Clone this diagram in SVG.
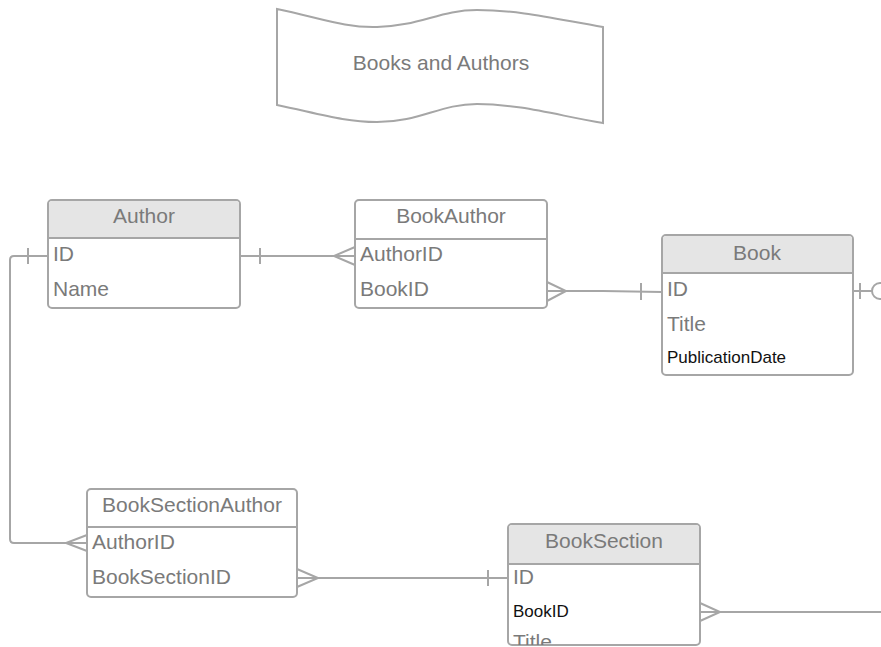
<svg xmlns="http://www.w3.org/2000/svg" width="881" height="647" viewBox="0 0 881 647">
<style>
.box{fill:#ffffff;stroke:#a6a6a6;stroke-width:2}
.hdr{fill:#e5e5e5;stroke:none}
.sep{stroke:#a6a6a6;stroke-width:2;fill:none}
.ln{stroke:#a6a6a6;stroke-width:2;fill:none}
.t{font-family:"Liberation Sans",Arial,sans-serif;font-size:21px;fill:#7a7a7a}
.h{text-anchor:middle}
.k{font-family:"Liberation Sans",Arial,sans-serif;font-size:17px;fill:#111111}
</style>
<defs>
<clipPath id="bsClip"><rect x="508" y="524" width="192" height="121" rx="4"/></clipPath>
</defs>
<rect width="881" height="647" fill="#ffffff"/>

<g id="title">
<path class="box" d="M277,9 C320,18 345,28 377,27 C420,26 440,10 477,10 C520,10 560,20 603,27 L603,123 C560,116 520,104 477,104 C440,104 420,122 377,122 C345,122 320,114 277,105 Z"/>
<text class="t h" x="441" y="70">Books and Authors</text>
</g>

<g id="connectors">
<!-- Author.ID to BookSectionAuthor.AuthorID -->
<path class="ln" d="M48,256 L14,256 Q10,256 10,260 L10,539 Q10,543 14,543 L87,543"/>
<line class="ln" x1="28" y1="248" x2="28" y2="264"/>
<polyline class="ln" points="87,535 66,543 87,551"/>
<!-- Author.ID to BookAuthor.AuthorID -->
<line class="ln" x1="240" y1="256" x2="355" y2="256"/>
<line class="ln" x1="260" y1="248" x2="260" y2="264"/>
<polyline class="ln" points="355,247 334,256 355,265"/>
<!-- BookAuthor.BookID to Book.ID -->
<path class="ln" d="M547,291 L603,291 L662,292"/>
<polyline class="ln" points="547,282 566,291 547,301"/>
<line class="ln" x1="641" y1="283" x2="641" y2="300"/>
<!-- Book.ID to right -->
<line class="ln" x1="853" y1="291" x2="872" y2="291"/>
<line class="ln" x1="860" y1="283" x2="860" y2="299"/>
<circle class="ln" cx="880" cy="291" r="8"/>
<!-- BookSectionAuthor.BookSectionID to BookSection.ID -->
<line class="ln" x1="297" y1="578" x2="508" y2="578"/>
<polyline class="ln" points="297,569 318,578 297,587"/>
<line class="ln" x1="488" y1="570" x2="488" y2="586"/>
<!-- BookSection.BookID to right -->
<line class="ln" x1="700" y1="612" x2="881" y2="612"/>
<polyline class="ln" points="700,603 720,612 700,621"/>
</g>

<g id="Author">
<rect class="box" x="48" y="200" width="192" height="108" rx="4"/>
<path class="hdr" d="M52,201 L236,201 Q239,201 239,204 L239,238 L49,238 L49,204 Q49,201 52,201 Z"/>
<line class="sep" x1="48" y1="238" x2="240" y2="238"/>
<text class="t h" x="144" y="223">Author</text>
<text class="t" x="53" y="261">ID</text>
<text class="t" x="53" y="296">Name</text>
</g>

<g id="BookAuthor">
<rect class="box" x="355" y="200" width="192" height="108" rx="4"/>
<line class="sep" x1="355" y1="239" x2="547" y2="239"/>
<text class="t h" x="451" y="223">BookAuthor</text>
<text class="t" x="360" y="261">AuthorID</text>
<text class="t" x="360" y="296">BookID</text>
</g>

<g id="Book">
<rect class="box" x="662" y="235" width="191" height="140" rx="4"/>
<path class="hdr" d="M666,236 L849,236 Q852,236 852,239 L852,273 L663,273 L663,239 Q663,236 666,236 Z"/>
<line class="sep" x1="662" y1="273" x2="853" y2="273"/>
<text class="t h" x="757" y="260">Book</text>
<text class="t" x="667" y="296">ID</text>
<text class="t" x="667" y="331">Title</text>
<text class="k" x="667" y="363">PublicationDate</text>
</g>

<g id="BookSectionAuthor">
<rect class="box" x="87" y="489" width="210" height="108" rx="4"/>
<line class="sep" x1="87" y1="527" x2="297" y2="527"/>
<text class="t h" x="192" y="512">BookSectionAuthor</text>
<text class="t" x="92" y="549">AuthorID</text>
<text class="t" x="92" y="584">BookSectionID</text>
</g>

<g id="BookSection">
<rect class="box" x="508" y="524" width="192" height="121" rx="4"/>
<path class="hdr" d="M512,525 L696,525 Q699,525 699,528 L699,564 L509,564 L509,528 Q509,525 512,525 Z"/>
<line class="sep" x1="508" y1="564" x2="700" y2="564"/>
<text class="t h" x="604" y="548">BookSection</text>
<text class="t" x="513" y="584">ID</text>
<text class="k" x="513" y="617">BookID</text>
<text class="t" x="513" y="649" clip-path="url(#bsClip)">Title</text>
</g>
</svg>
